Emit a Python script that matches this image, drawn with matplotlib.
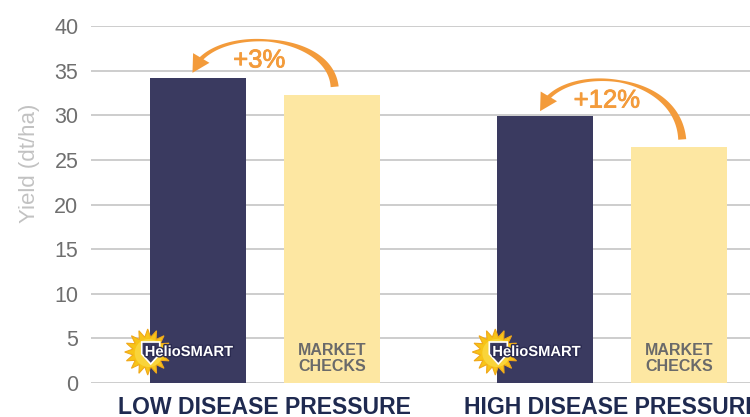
import numpy as np
import matplotlib
matplotlib.use("Agg")
import matplotlib.pyplot as plt
from matplotlib.patches import Polygon, Circle
from matplotlib.transforms import IdentityTransform
import matplotlib.patheffects as pe

plt.rcParams['font.family'] = ['Liberation Sans', 'DejaVu Sans']

# data
groups = ["LOW DISEASE PRESSURE", "HIGH DISEASE PRESSURE"]
heliosmart = [34.2, 29.9]
market_checks = [32.3, 26.4]
gains = ["+3%", "+12%"]
yticks = [0, 5, 10, 15, 20, 25, 30, 35, 40]

DARK = "#3a3a60"
LIGHT = "#fde7a2"
ORANGE = "#f39b3b"

fig = plt.figure(figsize=(7.5, 4.17), dpi=100)
ax = fig.add_axes([0.1213, 0.0815, 0.8787, 0.856])

x = np.arange(len(groups))
bw = 0.276
off = 0.193
ax.bar(x - off, heliosmart, bw, color=DARK, zorder=2)
ax.bar(x + off, market_checks, bw, color=LIGHT, zorder=2)

ax.set_ylim(0, 40)
ax.set_xlim(-0.5, 1.396)
ax.set_yticks(yticks)
ax.yaxis.grid(True, color="#c9c9c9", lw=1.3, zorder=0)
ax.set_axisbelow(True)
for s in ax.spines.values():
    s.set_visible(False)
ax.tick_params(axis="y", length=0, pad=9, labelsize=15.5, labelcolor="#6f6f6f")
ax.set_xticks(x)
ax.set_xticklabels(groups, fontsize=16.6, fontweight="bold", color="#1f2a50")
ax.tick_params(axis="x", length=0, pad=9)

fig.text(30 / 750, 1 - 163 / 417, "Yield (dt/ha)", rotation=90, ha="center",
         va="center", fontsize=16, color="#c2c2c2")

fig.canvas.draw()
T = ax.transData
ident = IdentityTransform()


def bez(p0, c1, c2, p3, t):
    t = t[:, None]
    return ((1 - t) ** 3 * p0 + 3 * (1 - t) ** 2 * t * c1
            + 3 * (1 - t) * t ** 2 * c2 + t ** 3 * p3)


def curved_arrow(tail, tip, label):
    # display coords, y up
    c1 = np.array([tail[0] - 5, tip[1] + 43])
    c2 = np.array([tip[0] + 15, tip[1] + 48])
    t = np.linspace(0, 1, 400)
    pts = bez(tail, c1, c2, tip, t)
    seg = np.hypot(*np.diff(pts, axis=0).T)
    s = np.concatenate([[0], np.cumsum(seg)])
    head_len = 15
    keep = s <= s[-1] - head_len
    body = pts[keep]
    u = s[keep] / s[-1]
    # thick at the tail, thin over the top, a bit wider at the head
    w = np.interp(u, [0, 0.15, 0.5, 0.8, 1.0], [8, 6.5, 2.2, 3.5, 4.8])
    d = np.gradient(body, axis=0)
    d /= np.hypot(d[:, 0], d[:, 1])[:, None]
    n = np.column_stack([-d[:, 1], d[:, 0]])
    left = body + n * (w[:, None] / 2)
    right = body - n * (w[:, None] / 2)
    ax.add_patch(Polygon(np.vstack([left, right[::-1]]), closed=True,
                         transform=ident, color=ORANGE, lw=0, zorder=4))
    base = body[-1]
    dirv = tip - base
    dirv /= np.hypot(*dirv)
    nv = np.array([-dirv[1], dirv[0]])
    head = [tip, base + nv * 9.5 - dirv * 2, base - nv * 9.5 - dirv * 2]
    ax.add_patch(Polygon(head, closed=True, transform=ident, color=ORANGE,
                         lw=0, zorder=4))
    mid = bez(tail, c1, c2, tip, np.array([0.5]))[0]
    xd, yd = T.inverted().transform((mid[0] - 8, mid[1] - 20))
    ax.text(xd, yd, label, ha="center", va="center", fontsize=18.5,
            color=ORANGE, zorder=5,
            path_effects=[pe.withStroke(linewidth=0.6, foreground=ORANGE)])


for i in range(len(groups)):
    tail = T.transform((x[i] + off + 0.008, market_checks[i])) + np.array([0, 8])
    tip = T.transform((x[i] - off - 0.015, heliosmart[i])) + np.array([0, 5])
    curved_arrow(tail, tip, gains[i])


def helio_logo(cx, cy):
    # sunflower petals
    ang = np.linspace(0, 2 * np.pi, 33)[:-1]
    r = np.where(np.arange(32) % 2 == 0, 23, 15)
    petals = np.column_stack([cx + r * np.cos(ang), cy + r * np.sin(ang)])
    ax.add_patch(Polygon(petals, closed=True, transform=ident, facecolor="#f7c417",
                         edgecolor="#f0a81a", lw=0.8, zorder=5))
    ax.add_patch(Circle((cx + 1, cy - 1), 14, transform=ident, facecolor="#f9d43a",
                        lw=0, zorder=5))
    shield = np.array([[cx - 6, cy + 10], [cx + 12, cy + 10], [cx + 12, cy - 2],
                       [cx + 3, cy - 12], [cx - 6, cy - 2]])
    ax.add_patch(Polygon(shield, closed=True, transform=ident, facecolor=DARK,
                         edgecolor="white", lw=1.2, zorder=6))
    xd, yd = T.inverted().transform((cx - 3, cy))
    ax.text(xd, yd, "HelioSMART", ha="left", va="center", fontsize=10.6,
            fontweight="bold", color="white", zorder=7,
            path_effects=[pe.withStroke(linewidth=2, foreground="#2a2a50")])


for i in range(len(groups)):
    px, py = T.transform((x[i] - off - bw / 2, 0))
    helio_logo(px - 2, py + 31)
    ax.text(x[i] + off, 2.75, "MARKET\nCHECKS", ha="center", va="center",
            fontsize=11.5, fontweight="bold", color="#6a6a6a", linespacing=1.15,
            zorder=5)

fig.savefig("out.png", dpi=100)
